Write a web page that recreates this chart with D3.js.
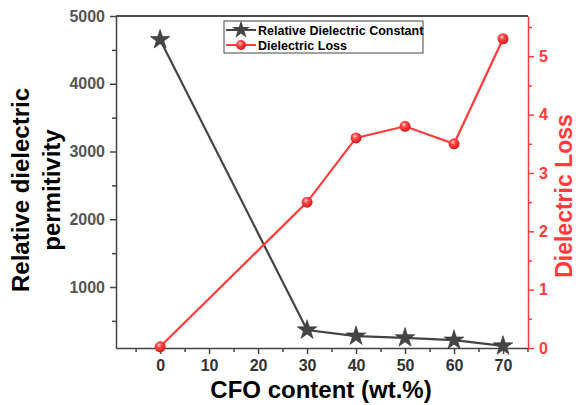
<!doctype html>
<html>
<head>
<meta charset="UTF-8">
<script src="https://cdn.jsdelivr.net/npm/d3@7"></script>
<style>
body { margin: 0; background: #fff; }
text { font-family: Arial, "Liberation Sans", sans-serif; font-weight: bold; }
</style>
</head>
<body>
<script>
// data
var cfo = [0, 30, 40, 50, 60, 70];
var permittivity = [4650, 365, 275, 250, 215, 130];
var loss = [0.02, 2.5, 3.6, 3.8, 3.5, 5.3];
var xTicks = [0, 10, 20, 30, 40, 50, 60, 70];
var yTicks = [1000, 2000, 3000, 4000, 5000];
var y2Ticks = [0, 1, 2, 3, 4, 5];

var w = 579, h = 405;
var margin = {top: 16, right: 51, bottom: 57, left: 116};
var grey = "#444", red = "#ff3b3b";

var svg = d3.select("body").append("svg").attr("width", w).attr("height", h);

var x = d3.scaleLinear().domain([-9, 75.1]).range([margin.left, w - margin.right]);
var y = d3.scaleLinear().domain([100, 5000]).range([h - margin.bottom, margin.top]);
var y2 = d3.scaleLinear().domain([0, 5.69]).range([h - margin.bottom, margin.top]);

// minor ticks
var xMinor = d3.range(-5, 76, 10);
var yMinor = d3.range(500, 5000, 1000);
var y2Minor = d3.range(0.5, 5.6, 1);

svg.append("g").attr("transform", "translate(0," + (h - margin.bottom) + ")")
  .call(d3.axisBottom(x).tickValues(xMinor).tickSize(4).tickFormat(""))
  .call(function(g) { g.select(".domain").remove(); g.selectAll("line").attr("stroke", grey).attr("stroke-width", 1.5); });
svg.append("g").attr("transform", "translate(" + margin.left + ",0)")
  .call(d3.axisLeft(y).tickValues(yMinor).tickSize(4).tickFormat(""))
  .call(function(g) { g.select(".domain").remove(); g.selectAll("line").attr("stroke", grey).attr("stroke-width", 1.5); });
svg.append("g").attr("transform", "translate(" + (w - margin.right) + ",0)")
  .call(d3.axisRight(y2).tickValues(y2Minor).tickSize(4).tickFormat(""))
  .call(function(g) { g.select(".domain").remove(); g.selectAll("line").attr("stroke", red).attr("stroke-width", 1.5); });

// major axes
var gx = svg.append("g").attr("transform", "translate(0," + (h - margin.bottom) + ")")
  .call(d3.axisBottom(x).tickValues(xTicks).tickFormat(d3.format("d")).tickSize(6).tickSizeOuter(0).tickPadding(6));
gx.select(".domain").attr("stroke", grey).attr("stroke-width", 1.5);
gx.selectAll("line").attr("stroke", grey).attr("stroke-width", 1.5);
gx.selectAll("text").attr("font-size", 16).attr("fill", "#333");

var gy = svg.append("g").attr("transform", "translate(" + margin.left + ",0)")
  .call(d3.axisLeft(y).tickValues(yTicks).tickFormat(d3.format("d")).tickSize(6).tickSizeOuter(0).tickPadding(5));
gy.select(".domain").attr("stroke", grey).attr("stroke-width", 1.5);
gy.selectAll("line").attr("stroke", grey).attr("stroke-width", 1.5);
gy.selectAll("text").attr("font-size", 16).attr("fill", "#555");

var gy2 = svg.append("g").attr("transform", "translate(" + (w - margin.right) + ",0)")
  .call(d3.axisRight(y2).tickValues(y2Ticks).tickFormat(d3.format("d")).tickSize(6).tickSizeOuter(0).tickPadding(5));
gy2.select(".domain").attr("stroke", red).attr("stroke-width", 1.5);
gy2.selectAll("line").attr("stroke", red).attr("stroke-width", 1.5);
gy2.selectAll("text").attr("font-size", 16).attr("fill", red);

// top frame line
svg.append("line")
  .attr("x1", margin.left).attr("x2", w - margin.right)
  .attr("y1", margin.top).attr("y2", margin.top)
  .attr("stroke", "#111").attr("stroke-width", 1.5);

// sphere gradient
var defs = svg.append("defs");
var grad = defs.append("radialGradient").attr("id", "ball")
  .attr("cx", "40%").attr("cy", "35%").attr("r", "65%");
grad.append("stop").attr("offset", "0%").attr("stop-color", "#ffd6d6");
grad.append("stop").attr("offset", "35%").attr("stop-color", "#ff4a4a");
grad.append("stop").attr("offset", "100%").attr("stop-color", "#d81818");

var star = d3.symbol().type(d3.symbolStar).size(120);

// permittivity series
var line1 = d3.line().x(function(d, i) { return x(cfo[i]); }).y(function(d) { return y(d); });
svg.append("path").datum(permittivity).attr("d", line1)
  .attr("fill", "none").attr("stroke", grey).attr("stroke-width", 2.2);

// loss series
var line2 = d3.line().x(function(d, i) { return x(cfo[i]); }).y(function(d) { return y2(d); });
svg.append("path").datum(loss).attr("d", line2)
  .attr("fill", "none").attr("stroke", red).attr("stroke-width", 2.2);

svg.selectAll(".star").data(permittivity).enter().append("path")
  .attr("class", "star")
  .attr("d", star)
  .attr("transform", function(d, i) { return "translate(" + x(cfo[i]) + "," + y(d) + ")"; })
  .attr("fill", grey).attr("stroke", "#333").attr("stroke-width", 0.6);

svg.selectAll(".ball").data(loss).enter().append("circle")
  .attr("class", "ball")
  .attr("cx", function(d, i) { return x(cfo[i]); })
  .attr("cy", function(d) { return y2(d); })
  .attr("r", 5.5)
  .attr("fill", "url(#ball)");

// legend
var lg = svg.append("g").attr("transform", "translate(224,21)");
lg.append("rect").attr("width", 199).attr("height", 32)
  .attr("fill", "#fff").attr("stroke", "#444").attr("stroke-width", 1);
lg.append("line").attr("x1", 2).attr("x2", 32).attr("y1", 9).attr("y2", 9).attr("stroke", grey).attr("stroke-width", 2);
lg.append("path").attr("d", d3.symbol().type(d3.symbolStar).size(100)).attr("transform", "translate(17,9)").attr("fill", grey);
lg.append("text").attr("x", 34).attr("y", 13.5).attr("font-size", 12.5).text("Relative Dielectric Constant");
lg.append("line").attr("x1", 2).attr("x2", 32).attr("y1", 24).attr("y2", 24).attr("stroke", red).attr("stroke-width", 2);
lg.append("circle").attr("cx", 17).attr("cy", 24).attr("r", 5).attr("fill", "url(#ball)");
lg.append("text").attr("x", 34).attr("y", 28.5).attr("font-size", 12.5).text("Dielectric Loss");

// axis titles
svg.append("text")
  .attr("x", 321).attr("y", 398)
  .attr("text-anchor", "middle").attr("font-size", 24)
  .text("CFO content (wt.%)");

svg.append("text")
  .attr("transform", "translate(29,190) rotate(-90)")
  .attr("text-anchor", "middle").attr("font-size", 24)
  .text("Relative dielectric");
svg.append("text")
  .attr("transform", "translate(60,190) rotate(-90)")
  .attr("text-anchor", "middle").attr("font-size", 24)
  .text("permitivity");

svg.append("text")
  .attr("transform", "translate(572,196) rotate(-90)")
  .attr("text-anchor", "middle").attr("font-size", 23)
  .attr("fill", red)
  .text("Dielectric Loss");
</script>
</body>
</html>
